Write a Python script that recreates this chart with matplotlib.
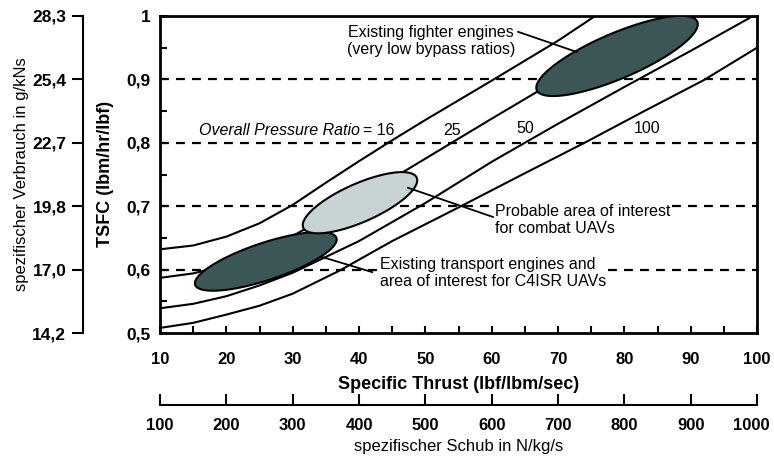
import numpy as np
import matplotlib
matplotlib.use("Agg")
import matplotlib.pyplot as plt
import matplotlib.transforms as mtransforms

plt.rcParams['font.family'] = ['Liberation Sans Narrow', 'Liberation Sans', 'DejaVu Sans']

# Achsen / Beschriftungen
thrust_ticks = [10, 20, 30, 40, 50, 60, 70, 80, 90, 100]
schub_ticks = [100, 200, 300, 400, 500, 600, 700, 800, 900, 1000]
tsfc_ticks = [0.5, 0.6, 0.7, 0.8, 0.9, 1.0]
tsfc_labels = ['0,5', '0,6', '0,7', '0,8', '0,9', '1']
verbrauch_labels = ['14,2', '17,0', '19,8', '22,7', '25,4', '28,3']
dashed_levels = [0.6, 0.7, 0.8, 0.9]

# Linien konstanten Gesamtdruckverhaeltnisses
opr16_x = [10, 15, 20, 25, 30, 35, 40, 45, 50, 60, 70, 75.6]
opr16_y = [0.632, 0.638, 0.652, 0.673, 0.702, 0.737, 0.771, 0.804, 0.836, 0.898, 0.961, 1.0]
opr25_x = [10, 15, 20, 25, 30, 40, 50, 60, 70, 80, 86.1]
opr25_y = [0.587, 0.594, 0.607, 0.627, 0.653, 0.712, 0.775, 0.838, 0.900, 0.962, 1.0]
opr50_x = [10, 15, 20, 25, 30, 40, 50, 60, 70, 80, 90, 99.4]
opr50_y = [0.539, 0.546, 0.558, 0.575, 0.595, 0.645, 0.705, 0.770, 0.830, 0.888, 0.945, 1.0]
opr100_x = [10, 15, 20, 25, 30, 37, 45, 55, 65, 74, 83, 92, 100]
opr100_y = [0.508, 0.516, 0.529, 0.543, 0.562, 0.598, 0.645, 0.698, 0.752, 0.800, 0.850, 0.899, 0.950]

# Bereiche: Endpunkte der Ellipsen-Hauptachse
transport_ends = [(15.3, 0.576), (36.6, 0.650)]
combat_ends = [(31.6, 0.666), (48.7, 0.745)]
fighter_ends = [(66.8, 0.883), (91.0, 0.991)]

W, H = 774, 459
fig = plt.figure(figsize=(W / 100, H / 100), dpi=100)
ax = fig.add_axes([160 / W, 1 - 333 / H, 597 / W, 317 / H])
ax.set_xlim(10, 100)
ax.set_ylim(0.5, 1.0)


def ellipse(p1, p2, ratio):
    d = ax.transData.transform(np.array([p1, p2]))
    c = d.mean(axis=0)
    u = (d[1] - d[0]) / 2
    v = np.array([-u[1], u[0]]) * ratio
    t = np.linspace(0, 2 * np.pi, 200)
    pts = c + np.outer(np.cos(t), u) + np.outer(np.sin(t), v)
    return ax.transData.inverted().transform(pts)


for lev in dashed_levels:
    ax.axhline(lev, color='black', lw=1.6, ls=(0, (4, 3.2)), zorder=1)

for xs, ys in [(opr16_x, opr16_y), (opr25_x, opr25_y), (opr50_x, opr50_y), (opr100_x, opr100_y)]:
    ax.plot(xs, ys, color='black', lw=1.5, zorder=2, solid_joinstyle='round')

for ends, ratio, col in [(transport_ends, 0.25, '#3c5658'),
                         (combat_ends, 0.31, '#c8d4d4'),
                         (fighter_ends, 0.26, '#3c5658')]:
    pts = ellipse(ends[0], ends[1], ratio)
    ax.fill(pts[:, 0], pts[:, 1], facecolor=col, edgecolor='black', lw=1.5, zorder=3)

# Hinweislinien
ax.plot([64.0, 72.9], [0.975, 0.943], color='black', lw=1.3, zorder=4)
ax.plot([47.4, 60.2], [0.729, 0.683], color='black', lw=1.3, zorder=4)
ax.plot([34.4, 42.0], [0.620, 0.596], color='black', lw=1.3, zorder=4)

box = dict(facecolor='white', edgecolor='none', pad=1)
tfs = 11.5
ax.text(50.9, 0.961, 'Existing fighter engines\n(very low bypass ratios)', ha='center', va='center',
        fontsize=tfs, linespacing=1.15, zorder=5, bbox=box)
ax.text(60.5, 0.678, 'Probable area of interest\nfor combat UAVs', ha='left', va='center',
        fontsize=tfs, linespacing=1.15, zorder=5, bbox=box)
ax.text(43.2, 0.595, 'Existing transport engines and\narea of interest for C4ISR UAVs', ha='left', va='center',
        fontsize=tfs, linespacing=1.15, zorder=5, bbox=box)

ax.text(40.15, 0.820, 'Overall Pressure Ratio', style='italic', ha='right', va='center', fontsize=tfs, zorder=5)
ax.text(40.6, 0.820, '= 16', ha='left', va='center', fontsize=tfs, zorder=5)
ax.text(54.0, 0.820, '25', ha='center', va='center', fontsize=tfs, zorder=5)
ax.text(65.0, 0.822, '50', ha='center', va='center', fontsize=tfs, zorder=5)
ax.text(83.4, 0.822, '100', ha='center', va='center', fontsize=tfs, zorder=5)

for s in ax.spines.values():
    s.set_linewidth(2)
ax.set_xticks(thrust_ticks)
ax.set_xticklabels([str(t) for t in thrust_ticks], fontweight='bold', fontsize=12)
ax.set_xticks(np.arange(15, 100, 10), minor=True)
ax.set_yticks(tsfc_ticks)
ax.set_yticklabels(tsfc_labels, fontweight='bold', fontsize=12.5)
ax.set_yticks(np.arange(0.55, 1.0, 0.1), minor=True)
ax.tick_params(which='both', direction='in', length=5, width=1.5)
ax.tick_params(axis='x', pad=14)
ax.tick_params(axis='y', pad=7)
ax.set_xlabel('Specific Thrust (lbf/lbm/sec)', fontweight='bold', fontsize=13)
ax.xaxis.set_label_coords(458.5 / W, 1 - 376 / H, transform=fig.transFigure)
ax.set_ylabel('TSFC (lbm/hr/lbf)', fontweight='bold', fontsize=13)
ax.yaxis.set_label_coords(114 / W, 1 - 174 / H, transform=fig.transFigure)

# linke Zusatzachse (g/kNs)
ax2 = fig.add_axes([83 / W, 1 - 333 / H, 0.0001, 317 / H])
ax2.set_ylim(0.5, 1.0)
for k in ['top', 'right', 'bottom']:
    ax2.spines[k].set_visible(False)
ax2.spines['left'].set_linewidth(1.5)
ax2.set_xticks([])
ax2.set_yticks(tsfc_ticks)
ax2.set_yticklabels(verbrauch_labels, fontweight='bold', fontsize=12.5)
ax2.tick_params(axis='y', direction='out', length=8, width=1.5, pad=4)
ax2.set_ylabel('spezifischer Verbrauch in g/kNs', fontsize=12)
ax2.yaxis.set_label_coords(29 / W, 1 - 174 / H, transform=fig.transFigure)

# untere Zusatzachse (N/kg/s)
ax3 = fig.add_axes([160 / W, 1 - 405 / H, 597 / W, 0.0001])
ax3.set_xlim(100, 1000)
for k in ['top', 'right', 'left']:
    ax3.spines[k].set_visible(False)
ax3.spines['bottom'].set_linewidth(1.5)
ax3.set_yticks([])
ax3.set_xticks(schub_ticks)
ax3.set_xticklabels([str(t) for t in schub_ticks], fontweight='bold', fontsize=12)
ax3.tick_params(axis='x', direction='in', length=8, width=1.5, pad=9)
last = ax3.get_xticklabels()[-1]
last.set_transform(last.get_transform() + mtransforms.ScaledTranslation(-4 / 72, 0, fig.dpi_scale_trans))
ax3.set_xlabel('spezifischer Schub in N/kg/s', fontsize=12)
ax3.xaxis.set_label_coords(458.5 / W, 1 - 439 / H, transform=fig.transFigure)

fig.savefig('out.png', dpi=100)
